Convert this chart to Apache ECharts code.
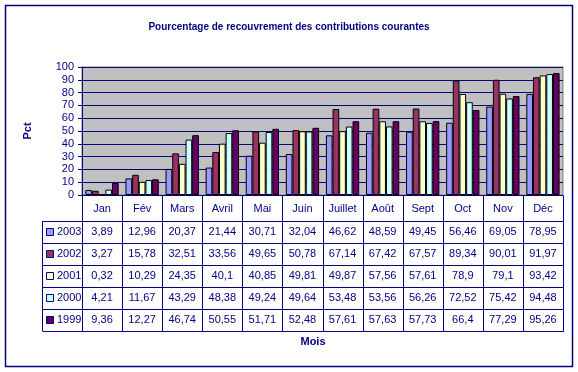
<!DOCTYPE html>
<html><head><meta charset="utf-8">
<script src="https://cdn.jsdelivr.net/npm/echarts@6/dist/echarts.min.js"></script>
<style>html,body{margin:0;padding:0;background:#fff}#c{width:578px;height:372px}</style>
</head><body><div id="c"></div>
<script>
const months = ['Jan','Fév','Mars','Avril','Mai','Juin','Juillet','Août','Sept','Oct','Nov','Déc'];
const years = ['2003','2002','2001','2000','1999'];
const v2003 = [3.89,12.96,20.37,21.44,30.71,32.04,46.62,48.59,49.45,56.46,69.05,78.95];
const v2002 = [3.27,15.78,32.51,33.56,49.65,50.78,67.14,67.42,67.57,89.34,90.01,91.97];
const v2001 = [0.32,10.29,24.35,40.1,40.85,49.81,49.87,57.56,57.61,78.9,79.1,93.42];
const v2000 = [4.21,11.67,43.29,48.38,49.24,49.64,53.48,53.56,56.26,72.52,75.42,94.48];
const v1999 = [9.36,12.27,46.74,50.55,51.71,52.48,57.61,57.63,57.73,66.4,77.29,95.26];
const yTicks = [0,10,20,30,40,50,60,70,80,90,100];
const seriesData = [v2003,v2002,v2001,v2000,v1999];
const colors = ['#9999FF','#993366','#FFFFCC','#CCFFFF','#660066'];
const NAVY = '#000080';
const FONT = "'Liberation Sans', Arial, sans-serif";

const chart = echarts.init(document.getElementById('c'), null, {renderer:'canvas'});
chart.setOption({
  animation:false,
  backgroundColor:'#fff',
  title:{text:'Pourcentage de recouvrement des contributions courantes', left:284, top:17, textAlign:'center',
    textStyle:{color:NAVY, fontSize:10, fontWeight:'bold', fontFamily:"'Liberation Sans Narrow','Liberation Sans',Arial"}},
  grid:{left:82, right:15, top:67, height:128, show:true, backgroundColor:'#C0C0C0', borderColor:'#808080', borderWidth:1},
  xAxis:{type:'category', data:months,
    axisLine:{lineStyle:{color:NAVY,width:1}}, axisTick:{show:false},
    axisLabel:{color:NAVY, fontSize:11, fontFamily:FONT, margin:8}},
  yAxis:{type:'value', min:yTicks[0], max:yTicks[yTicks.length-1], interval:10,
    axisLine:{show:true,lineStyle:{color:NAVY,width:1}}, axisTick:{show:true,length:4,lineStyle:{color:NAVY}},
    axisLabel:{color:NAVY, fontSize:11, fontFamily:FONT, margin:8},
    splitLine:{lineStyle:{color:NAVY,width:1}}},
  series: years.map((y,i)=>({name:y, type:'bar', data:seriesData[i], barGap:'0%', barCategoryGap:'17%',
    itemStyle:{color:colors[i], borderColor:'#000', borderWidth:1}}))
});

// Data table built from axis positions
const g = [];
const x0 = chart.convertToPixel({xAxisIndex:0}, 0);
const x1 = chart.convertToPixel({xAxisIndex:0}, 1);
const cw = x1 - x0;
const left = Math.round(x0 - cw/2) + 0.5;
const right = Math.round(chart.convertToPixel({xAxisIndex:0}, months.length-1) + cw/2) + 0.5;
const yBase = Math.round(chart.convertToPixel({yAxisIndex:0}, 0)) + 0.5;
const catH = 25.5, rowH = 22;
const tTop = yBase + catH;
const tBot = tTop + rowH*years.length;
const legL = 42.5;
const ls = {stroke:NAVY, lineWidth:1};
// horizontal lines
for (let r=0; r<=years.length; r++) {
  const y = Math.round(tTop + r*rowH) + 0.5;
  g.push({type:'line', shape:{x1:legL, y1:y, x2:right, y2:y}, style:ls, silent:true});
}
g.push({type:'line', shape:{x1:legL, y1:tTop, x2:legL, y2:tBot}, style:ls});
for (let i=0; i<=months.length; i++) {
  const x = Math.round(x0 - cw/2 + i*cw) + 0.5;
  g.push({type:'line', shape:{x1:x, y1:yBase, x2:x, y2:Math.round(tBot)+0.5}, style:ls});
}
years.forEach((yr,r)=>{
  const cy = tTop + r*rowH + rowH/2;
  g.push({type:'rect', shape:{x:46.5, y:Math.round(cy-4)+0.5, width:7, height:7}, style:{fill:colors[r], stroke:NAVY, lineWidth:1}});
  g.push({type:'text', x:57, y:cy, style:{text:yr, fill:NAVY, font:"11px "+FONT, textVerticalAlign:'middle', textAlign:'left'}});
  seriesData[r].forEach((v,i)=>{
    const cx = chart.convertToPixel({xAxisIndex:0}, i);
    g.push({type:'text', x:cx, y:cy, style:{text:String(v).replace('.',','), fill:NAVY, font:"11px "+FONT, textAlign:'center', textVerticalAlign:'middle'}});
  });
});
// axis titles
g.push({type:'text', x:28, y:131, rotation:Math.PI/2, style:{text:'Pct', fill:NAVY, font:"bold 11px "+FONT, textAlign:'center', textVerticalAlign:'middle'}});
g.push({type:'text', x:313, y:342, style:{text:'Mois', fill:NAVY, font:"bold 11px "+FONT, textAlign:'center', textVerticalAlign:'middle'}});
// outer border
g.push({type:'rect', shape:{x:5.5, y:5.5, width:567, height:361}, style:{fill:null, stroke:NAVY, lineWidth:1.5}, z:-1});
chart.setOption({graphic:g});
</script></body></html>
